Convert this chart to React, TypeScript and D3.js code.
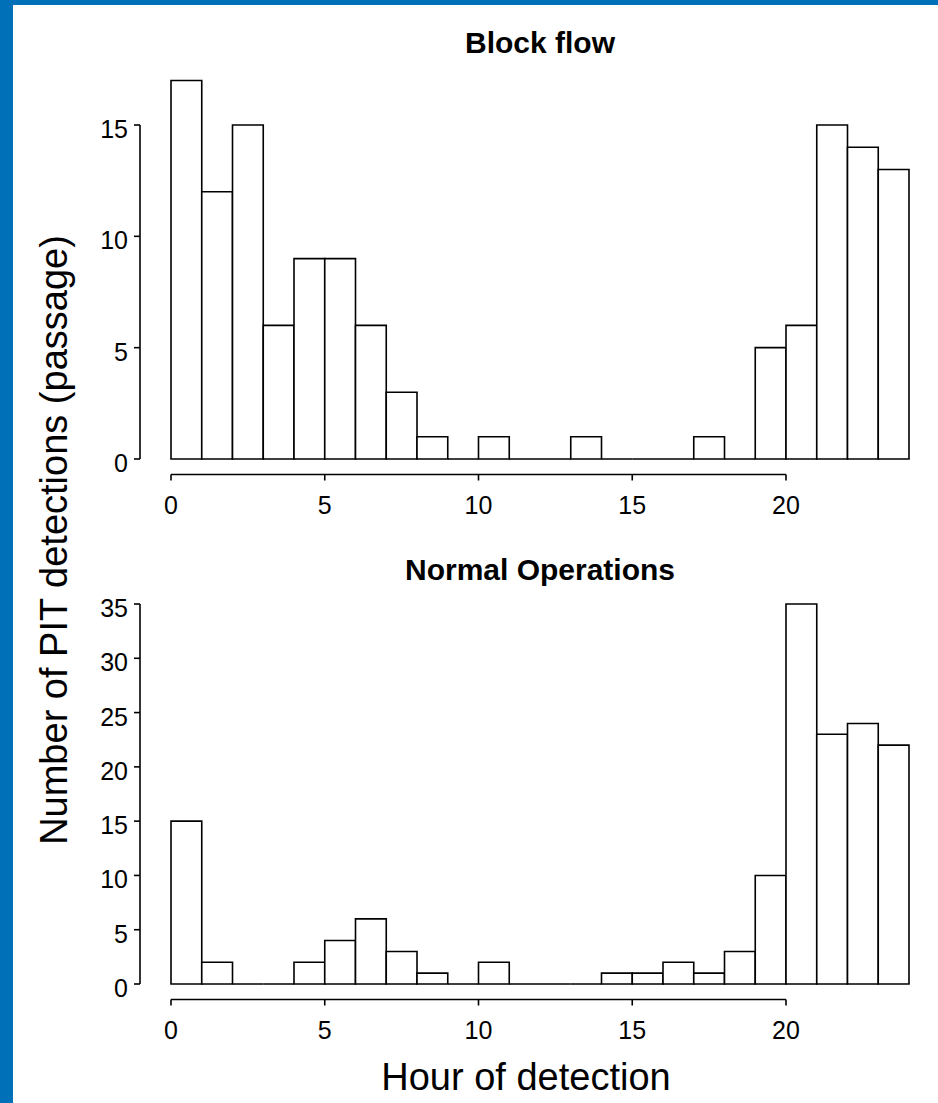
import { useEffect, useRef } from "react";
import * as d3 from "d3";

const WIDTH = 938;
const HEIGHT = 1103;

const HOURS: number[] = d3.range(0, 24);
const BLOCK_FLOW: number[] = [17, 12, 15, 6, 9, 9, 6, 3, 1, 0, 1, 0, 0, 1, 0, 0, 0, 1, 0, 5, 6, 15, 14, 13];
const NORMAL_OPS: number[] = [15, 2, 0, 0, 2, 4, 6, 3, 1, 0, 2, 0, 0, 0, 1, 1, 2, 1, 3, 10, 35, 23, 24, 22];
const X_TICKS: number[] = [0, 5, 10, 15, 20];
const TOP_Y_TICKS: number[] = [0, 5, 10, 15];
const BOTTOM_Y_TICKS: number[] = [0, 5, 10, 15, 20, 25, 30, 35];

const FONT = "'Liberation Sans', Arial, sans-serif";

const App = () => {
  const svgRef = useRef<SVGSVGElement | null>(null);

  useEffect(() => {
    if (!svgRef.current) return;
    const svg = d3.select(svgRef.current);
    svg.selectAll("*").remove();

    svg.append("rect").attr("width", WIDTH).attr("height", HEIGHT).attr("fill", "#fff");
    // blue frame
    svg.append("rect").attr("x", 0).attr("y", 0).attr("width", 13).attr("height", HEIGHT).attr("fill", "#0070B8");
    svg.append("rect").attr("x", 0).attr("y", 0).attr("width", WIDTH).attr("height", 5).attr("fill", "#0070B8");

    const x = d3.scaleLinear().domain([0, 24]).range([171, 909]);

    const panel = (
      values: number[],
      yTicks: number[],
      y: d3.ScaleLinear<number, number>,
      title: string,
      titleY: number
    ) => {
      const g = svg.append("g");
      const y0 = y(0);

      // bars (paths so zero counts still show as a flat line)
      g.selectAll("path.bar")
        .data(HOURS)
        .join("path")
        .attr("class", "bar")
        .attr("d", (h) => {
          const x0 = x(h);
          const x1 = x(h + 1);
          const yv = y(values[h]);
          return `M${x0},${y0}V${yv}H${x1}V${y0}Z`;
        })
        .attr("fill", "#fff")
        .attr("stroke", "#000")
        .attr("stroke-width", 1.6);

      // y axis
      const axisX = 140;
      g.append("line")
        .attr("x1", axisX).attr("x2", axisX)
        .attr("y1", y(yTicks[0])).attr("y2", y(yTicks[yTicks.length - 1]))
        .attr("stroke", "#000").attr("stroke-width", 1.6);
      g.selectAll("line.ytick")
        .data(yTicks)
        .join("line")
        .attr("class", "ytick")
        .attr("x1", axisX - 6).attr("x2", axisX)
        .attr("y1", (d) => y(d)).attr("y2", (d) => y(d))
        .attr("stroke", "#000").attr("stroke-width", 1.6);
      g.selectAll("text.ylab")
        .data(yTicks)
        .join("text")
        .attr("class", "ylab")
        .attr("x", axisX - 12)
        .attr("y", (d) => y(d) + 13)
        .attr("text-anchor", "end")
        .attr("font-family", FONT)
        .attr("font-size", 25)
        .text((d) => d);

      // x axis
      const axisY = y0 + 15.5;
      g.append("line")
        .attr("x1", x(X_TICKS[0])).attr("x2", x(X_TICKS[X_TICKS.length - 1]))
        .attr("y1", axisY).attr("y2", axisY)
        .attr("stroke", "#000").attr("stroke-width", 1.6);
      g.selectAll("line.xtick")
        .data(X_TICKS)
        .join("line")
        .attr("class", "xtick")
        .attr("x1", (d) => x(d)).attr("x2", (d) => x(d))
        .attr("y1", axisY).attr("y2", axisY + 6)
        .attr("stroke", "#000").attr("stroke-width", 1.6);
      g.selectAll("text.xlab")
        .data(X_TICKS)
        .join("text")
        .attr("class", "xlab")
        .attr("x", (d) => x(d))
        .attr("y", axisY + 39)
        .attr("text-anchor", "middle")
        .attr("font-family", FONT)
        .attr("font-size", 25)
        .text((d) => d);

      g.append("text")
        .attr("x", 540)
        .attr("y", titleY)
        .attr("text-anchor", "middle")
        .attr("font-family", FONT)
        .attr("font-weight", "bold")
        .attr("font-size", 30)
        .text(title);
    };

    const yTop = d3.scaleLinear().domain([0, 15]).range([459, 125]);
    const yBottom = d3.scaleLinear().domain([0, 35]).range([984, 604]);

    panel(BLOCK_FLOW, TOP_Y_TICKS, yTop, "Block flow", 53);
    panel(NORMAL_OPS, BOTTOM_Y_TICKS, yBottom, "Normal Operations", 580);

    svg.append("text")
      .attr("transform", `translate(67, 540) rotate(-90)`)
      .attr("text-anchor", "middle")
      .attr("font-family", FONT)
      .attr("font-size", 38)
      .text("Number of PIT detections (passage)");

    svg.append("text")
      .attr("x", 526)
      .attr("y", 1090)
      .attr("text-anchor", "middle")
      .attr("font-family", FONT)
      .attr("font-size", 38)
      .text("Hour of detection");
  }, []);

  return (
    <div style={{ position: "absolute", left: 0, top: 0 }}>
      <svg ref={svgRef} width={WIDTH} height={HEIGHT} style={{ display: "block" }} />
    </div>
  );
};

export default App;
